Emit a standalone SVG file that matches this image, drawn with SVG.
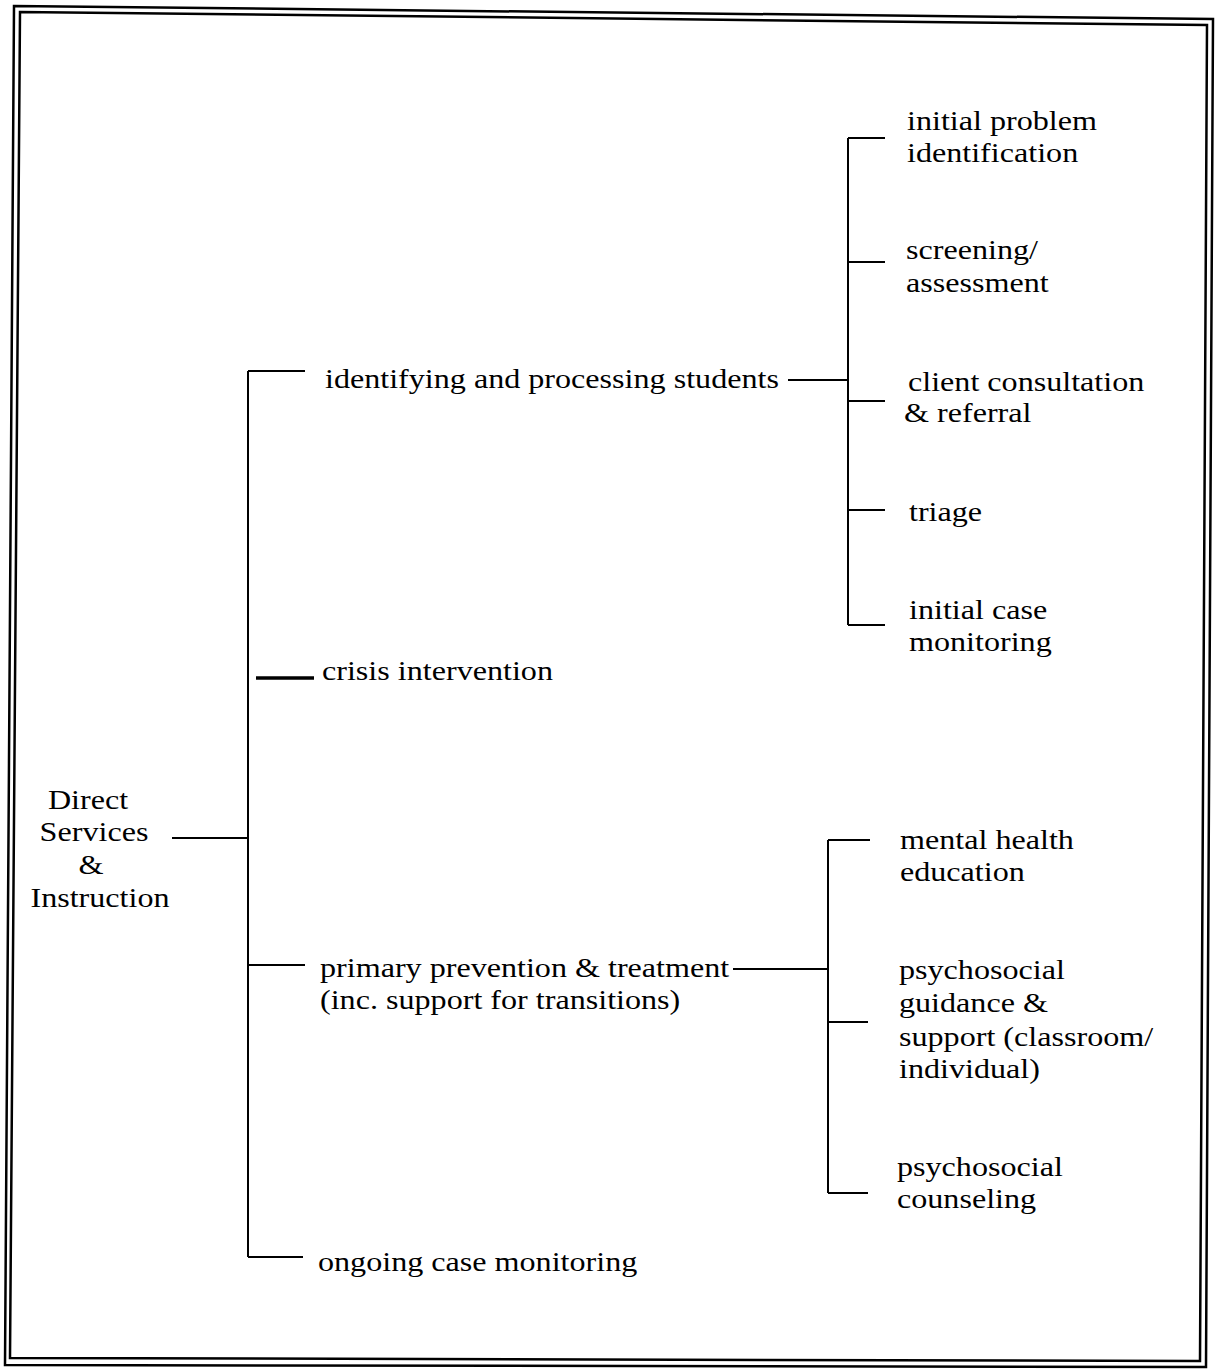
<svg xmlns="http://www.w3.org/2000/svg" width="1219" height="1369" viewBox="0 0 1219 1369">
  <style>
    .frame { fill: none; stroke: #000; stroke-width: 2.5; stroke-linejoin: miter; }
    .link { fill: none; stroke: #000; stroke-width: 2; stroke-linecap: butt; }
    .heavy { stroke-width: 3.5; }
    text { font-family: "Liberation Serif", "Times New Roman", serif; font-size: 27px; fill: #000; }
    .mid { text-anchor: middle; }
  </style>

  <rect width="1219" height="1369" fill="#fff"/>

  <!-- double page frame -->
  <g id="frame">
    <polygon class="frame" points="14,6 1213,19 1206,1367 5,1365"/>
    <polygon class="frame" points="20,12 1207,25 1200,1361 10,1358"/>
  </g>

  <!-- tree connectors -->
  <g id="connectors">
    <!-- root to main spine -->
    <path class="link" d="M172,838 H248"/>
    <path class="link" d="M248,371 V1257"/>
    <path class="link" d="M248,371 H305"/>
    <path class="link heavy" d="M256,678 H314"/>
    <path class="link" d="M248,965 H305"/>
    <path class="link" d="M248,1257 H303"/>
    <!-- identifying branch -->
    <path class="link" d="M788,380 H848"/>
    <path class="link" d="M848,138 V625"/>
    <path class="link" d="M848,138 H885"/>
    <path class="link" d="M848,262 H885"/>
    <path class="link" d="M848,401 H885"/>
    <path class="link" d="M848,510 H885"/>
    <path class="link" d="M848,625 H885"/>
    <!-- prevention branch -->
    <path class="link" d="M733,969 H828"/>
    <path class="link" d="M828,840 V1193"/>
    <path class="link" d="M828,840 H870"/>
    <path class="link" d="M828,1022 H868"/>
    <path class="link" d="M828,1193 H868"/>
  </g>

  <!-- root -->
  <g id="node-root">
    <text class="mid" transform="translate(88,809) scale(1.19 1)">Direct</text>
    <text class="mid" transform="translate(94,841) scale(1.19 1)">Services</text>
    <text class="mid" transform="translate(91,874) scale(1.19 1)">&amp;</text>
    <text class="mid" transform="translate(100,907) scale(1.19 1)">Instruction</text>
  </g>

  <!-- second level -->
  <g id="node-identifying">
    <text transform="translate(325,388) scale(1.19 1)">identifying and processing students</text>
  </g>
  <g id="node-crisis">
    <text transform="translate(322,680) scale(1.19 1)">crisis intervention</text>
  </g>
  <g id="node-prevention">
    <text transform="translate(320,977) scale(1.19 1)">primary prevention &amp; treatment</text>
    <text transform="translate(320,1009) scale(1.19 1)">(inc. support for transitions)</text>
  </g>
  <g id="node-ongoing">
    <text transform="translate(318,1271) scale(1.19 1)">ongoing case monitoring</text>
  </g>

  <!-- identifying: leaves -->
  <g id="node-initial-problem">
    <text transform="translate(907,130) scale(1.19 1)">initial problem</text>
    <text transform="translate(907,162) scale(1.19 1)">identification</text>
  </g>
  <g id="node-screening">
    <text transform="translate(906,259) scale(1.19 1)">screening/</text>
    <text transform="translate(906,292) scale(1.19 1)">assessment</text>
  </g>
  <g id="node-client">
    <text transform="translate(908,391) scale(1.19 1)">client consultation</text>
    <text transform="translate(904,422) scale(1.19 1)">&amp; referral</text>
  </g>
  <g id="node-triage">
    <text transform="translate(909,521) scale(1.19 1)">triage</text>
  </g>
  <g id="node-initial-case">
    <text transform="translate(909,619) scale(1.19 1)">initial case</text>
    <text transform="translate(909,651) scale(1.19 1)">monitoring</text>
  </g>

  <!-- prevention: leaves -->
  <g id="node-mental-health">
    <text transform="translate(900,849) scale(1.19 1)">mental health</text>
    <text transform="translate(900,881) scale(1.19 1)">education</text>
  </g>
  <g id="node-guidance">
    <text transform="translate(899,979) scale(1.19 1)">psychosocial</text>
    <text transform="translate(899,1012) scale(1.19 1)">guidance &amp;</text>
    <text transform="translate(899,1046) scale(1.19 1)">support (classroom/</text>
    <text transform="translate(899,1078) scale(1.19 1)">individual)</text>
  </g>
  <g id="node-counseling">
    <text transform="translate(897,1176) scale(1.19 1)">psychosocial</text>
    <text transform="translate(897,1208) scale(1.19 1)">counseling</text>
  </g>
</svg>
